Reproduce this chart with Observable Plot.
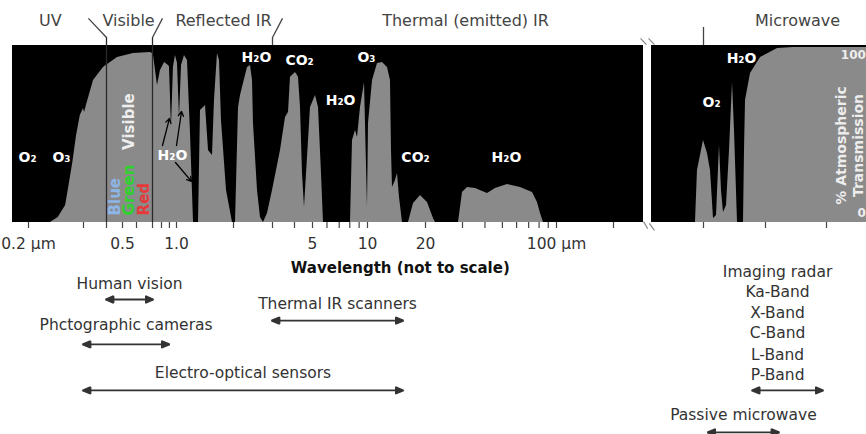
<!DOCTYPE html>
<html><head><meta charset="utf-8">
<script src="https://cdn.jsdelivr.net/npm/d3@7"></script>
<script src="https://cdn.jsdelivr.net/npm/@observablehq/plot@0.6"></script>
<style>html,body{margin:0;padding:0;background:#fff;} #chart svg{display:block;}</style>
</head><body><div id="chart"></div>
<script>
// ---------- DATA (wavelength in µm, transmission in %) ----------
const opticalWavelength = [0.235,0.249,0.263,0.269,0.277,0.285,0.293,0.300,0.304,0.311,
  0.340,0.385,0.466,0.577,0.686,0.700,0.711,0.754,0.788,0.837,
  0.888,0.901,0.928,0.956,0.985,1.012,1.037,1.063,1.102,1.143,
  1.186,1.230,1.307,1.339,1.423,1.476,1.549,1.587,1.646,1.687,
  1.728,1.837,1.976,2.042,2.107,2.151,2.313,2.387,2.437,2.462,
  2.567,2.648,2.732,2.848,3.0,3.331,3.556,3.698,3.796,4.05,
  4.203,4.309,4.417,4.528,4.699,4.877,5.193,5.393,5.6,5.743,
  8.071,8.278,8.596,8.816,9.155,9.629,10.0,10.12,10.62,11.27,
  11.96,12.70,13.16,13.32,13.48,13.97,14.31,14.66,15.19,16.32,
  17.33,18.84,20.44,21.83,22.32,28.71,30.0,31.98,35.44,41.32,
  45.78,53.39,63.06,73.54,78.4,81.47,84.67];
const opticalTransmission = [0,2.8,9.6,19.8,33.3,49,60.5,64.4,62.1,66.1,
  80.2,87.6,93.2,95.5,96,95.5,94.4,77.4,85.9,90.4,
  88.7,88,53.7,88,94.4,90,59.3,88.7,94.4,91.5,
  50,0,0,63.3,66.1,40.7,37.9,68.9,95.5,91.5,
  57.6,18.1,0,0,65,71.8,87.6,88.7,80.2,55.9,
  18.1,2.8,0,5.1,18.1,40.7,59.3,62.1,82,84.7,
  82,65,27.7,8.5,36.7,65,71.8,65,27.7,0,
  0,46.3,52,48,65,79,8.5,55.9,80.2,89.8,
  90.4,87.6,80.2,41,19.8,23.7,27.7,14.1,0,0,
  10.7,15.3,11.3,2.3,0,0,16.9,19.8,19.2,16.4,
  19.2,21.5,19.8,16.9,11.3,5.1,0];

const microwaveWavelength = [912,933,955,1000,1160,1297,1450,1621,1811,1951,2102,2350,2627,2936,3162,3535,4416,4585,4760,5730,8300,15730,28770,450000];
const microwaveTransmission = [0,29.4,35,46.3,39,29.4,2.3,4,43.5,18.1,5.6,9.6,40.7,79.1,52,0,0,40.7,68.9,84.2,93.2,98.3,98.9,98.9];

const tickValues = [0.2,0.3,0.4,0.5,0.6,0.7,0.8,0.9,1,2,3,4,5,6,7,8,9,10,20,30,40,50,60,70,80,90,100,300,1000,10000,100000];
const tickLabelValues = [0.2,0.5,1,5,10,20,100];
const tickLabels = ["0.2 µm","0.5","1.0","5","10","20","100 µm"];

const regionNames = ["UV","Visible","Reflected IR","Thermal (emitted) IR","Microwave"];
const regionCenters = [0.235,0.541,1.77,31.2,33470];

const gasNames = ["O₂","O₃","H₂O","H₂O","CO₂","O₃","H₂O","CO₂","H₂O","O₂","H₂O"];
const gasWavelength = [0.198,0.255,0.942,2.54,4.26,9.87,7.12,17.75,52.7,1346,4102];
const gasTransmission = [36.7,36.7,37.9,93.2,91.5,93.2,68.9,36.7,36.7,67.8,92.7];

const colourNames = ["Blue","Green","Red"];
const colourWavelength = [0.453,0.548,0.648];

const sensorNames = ["Human vision","Thermal IR scanners","Phctographic cameras","Electro-optical sensors","Passive microwave"];
const sensorFrom = [0.4,3,0.3,0.3,1200];
const sensorTo = [0.7,15.2,0.89,15.2,16300];

const radarLines = ["Imaging radar","Ka-Band","X-Band","C-Band","L-Band","P-Band"];
const radarFrom = 6200, radarTo = 86000;

// ---------- SCALES (axis not to scale: piecewise log) ----------
const knotWavelengths = [0.17,0.2,0.3,0.4,0.5,0.6,0.7,1,2,3,4,5,10,20,30,100,300,450,550,1000,1e4,1e5,4.5e5];
const knotPixels = [12,28,83,106,122,136,152,176,233,272,294,312,367,425,462,556,613,643,651,703,765,826,866];
const xOpts = {type: "log", domain: knotWavelengths, range: knotPixels};
const yOpts = {domain: [0, 100], range: [222, 45]};
const xs = Plot.scale({x: xOpts});
const midOf = (a, b) => xs.invert((xs.apply(a) + xs.apply(b)) / 2);

// ---------- build tables ----------
const optical = opticalWavelength.map((w, i) => ({w, t: opticalTransmission[i]}));
const microwave = microwaveWavelength.map((w, i) => ({w, t: microwaveTransmission[i]}));
const panels = [{from: 0.17, to: 450}, {from: 550, to: 4.5e5}];
const regions = regionNames.map((name, i) => ({name, w: regionCenters[i]}));
const gases = gasNames.map((name, i) => ({name, w: gasWavelength[i], t: gasTransmission[i]}));
const ticks = tickLabelValues.map((v, i) => ({v, label: tickLabels[i]}));

// layout (in % transmission units of the y scale)
const L = {regionY: 114, tickY: -11.9, titleY: -26,
  sensorLabelY: [-34.5,-46.3,-58.2,-85.3,-109], sensorArrowY: [-43.5,-55.4,-68.9,-94.9,-118.6],
  radarY: [-28.2,-39.5,-51.4,-62.7,-74.6,-86.4], radarArrowY: -94.9};
const sensors = sensorNames.map((name, i) => ({name, from: sensorFrom[i], to: sensorTo[i],
  ly: L.sensorLabelY[i], ay: L.sensorArrowY[i], mid: midOf(sensorFrom[i], sensorTo[i])}));
sensors.push({name: null, from: radarFrom, to: radarTo, ay: L.radarArrowY, mid: midOf(radarFrom, radarTo)});
const colours = colourNames.map((name, i) => ({name, w: colourWavelength[i]}));
const colourFill = ["#8db6e6","#2ed12e","#e63a3a"];

const slashes = [
  {x1: 0.319, y1: 115.3, x2: 0.4, y2: 104.5},
  {x1: 0.7, y1: 104.5, x2: 0.812, y2: 115.3},
  {x1: 3, y1: 104.5, x2: 3.42, y2: 115.3}
];
const h2oArrows = [
  {x1: 0.812, y1: 43.5, x2: 0.901, y2: 58.8},
  {x1: 1.0, y1: 43.5, x2: 1.063, y2: 62.7},
  {x1: 0.985, y1: 33.9, x2: 1.2, y2: 23.2}
];
const breakMarks = [
  {x1: 432, y1: 104, x2: 485, y2: 100.5},
  {x1: 510, y1: 104, x2: 569, y2: 100.5},
  {x1: 450, y1: 0.5, x2: 500, y2: -3.5},
  {x1: 520, y1: -0.5, x2: 569, y2: -4.5}
];

// filled triangular arrowhead marker
function filledArrow(color, context) {
  const ns = "http://www.w3.org/2000/svg";
  const doc = (context && context.document) || document;
  const m = doc.createElementNS(ns, "marker");
  m.setAttribute("viewBox", "-8 -5 10 10");
  m.setAttribute("markerWidth", 10);
  m.setAttribute("markerHeight", 10);
  m.setAttribute("markerUnits", "userSpaceOnUse");
  m.setAttribute("orient", "auto-start-reverse");
  const p = doc.createElementNS(ns, "path");
  p.setAttribute("d", "M1,0L-7,-3.3L-7,3.3Z");
  p.setAttribute("fill", color);
  m.appendChild(p);
  return m;
}

function sensorArrowMarks(useCustom) {
  if (useCustom) {
    return [Plot.link(sensors, {x1: "from", x2: "to", y1: "ay", y2: "ay", stroke: "#333", strokeWidth: 1.8, markerStart: filledArrow, markerEnd: filledArrow})];
  }
  return [
    Plot.arrow(sensors, {x1: "mid", x2: "from", y1: "ay", y2: "ay", stroke: "#333", strokeWidth: 1.8, headLength: 7}),
    Plot.arrow(sensors, {x1: "mid", x2: "to", y1: "ay", y2: "ay", stroke: "#333", strokeWidth: 1.8, headLength: 7})
  ];
}

function build(useCustom) {
  return Plot.plot({
    width: 866, height: 434, margin: 0,
    x: {...xOpts, axis: null},
    y: {...yOpts, axis: null},
    style: {fontFamily: "DejaVu Sans", background: "white", overflow: "visible"},
    marks: [
      Plot.rect(panels, {x1: "from", x2: "to", y1: 0, y2: 100, fill: "black"}),
      Plot.areaY(optical, {x: "w", y: "t", fill: "#8a8a8a", curve: "linear"}),
      Plot.areaY(microwave, {x: "w", y: "t", fill: "#8a8a8a", curve: "linear"}),
      Plot.ruleX([0.4, 0.7], {y1: 0, y2: 104.5, stroke: "#2a2a2a", strokeWidth: 1.3}),
      Plot.ruleX([3], {y1: 100, y2: 104.5, stroke: "#444", strokeWidth: 1.3}),
      Plot.ruleX([1000], {y1: 100, y2: 110.2, stroke: "#444", strokeWidth: 1.3}),
      Plot.link(slashes, {x1: "x1", y1: "y1", x2: "x2", y2: "y2", stroke: "#444", strokeWidth: 1.3}),
      Plot.link(breakMarks, {x1: "x1", y1: "y1", x2: "x2", y2: "y2", stroke: "#888", strokeWidth: 1.2}),
      Plot.ruleX(tickValues, {y1: 0, y2: -3.4, stroke: "#444", strokeWidth: 1.2}),
      Plot.text(ticks, {x: "v", y: L.tickY, text: "label", fontSize: 15.5, fill: "#333"}),
      Plot.text(["Wavelength (not to scale)"], {x: 14.8, y: L.titleY, text: d => d, fontSize: 15, fontWeight: "bold", fill: "#111"}),
      Plot.text(regions, {x: "w", y: L.regionY, text: "name", fontSize: 16, fill: "#444"}),
      Plot.text(gases, {x: "w", y: "t", text: "name", fontSize: 14, fontWeight: "bold", fill: "white"}),
      Plot.text(["Visible"], {x: 0.548, y: 57, text: d => d, rotate: -90, fontSize: 15, fontWeight: "bold", fill: "#eeeeee"}),
      Plot.text(colours, {x: "w", y: 4, text: "name", rotate: -90, textAnchor: "start", fontSize: 15, fontWeight: "bold", fill: (d, i) => colourFill[i]}),
      Plot.arrow(h2oArrows, {x1: "x1", y1: "y1", x2: "x2", y2: "y2", stroke: "black", strokeWidth: 1.3, headLength: 6}),
      Plot.text(["% Atmospheric"], {x: 1.75e5, y: 43.5, text: d => d, rotate: -90, fontSize: 14, fontWeight: "bold", fill: "#eeeeee"}),
      Plot.text(["Transmission"], {x: 3.3e5, y: 43.5, text: d => d, rotate: -90, fontSize: 14, fontWeight: "bold", fill: "#eeeeee"}),
      Plot.text(["100"], {x: 4.4e5, y: 94.4, text: d => d, textAnchor: "end", fontSize: 12, fontWeight: "bold", fill: "#eeeeee"}),
      Plot.text(["0"], {x: 4.4e5, y: 5.1, text: d => d, textAnchor: "end", fontSize: 12, fontWeight: "bold", fill: "#eeeeee"}),
      ...sensorArrowMarks(useCustom),
      Plot.text(sensors.filter(d => d.name), {x: "mid", y: "ly", text: "name", fontSize: 15.5, fill: "#333"}),
      Plot.text(radarLines, {x: midOf(radarFrom, radarTo), y: (d, i) => L.radarY[i], text: d => d, dx: -10, fontSize: 15.5, fill: "#333"})
    ]
  });
}

let chart;
try { chart = build(true); } catch (e) { chart = build(false); }
document.getElementById("chart").appendChild(chart);
</script>
</body></html>
